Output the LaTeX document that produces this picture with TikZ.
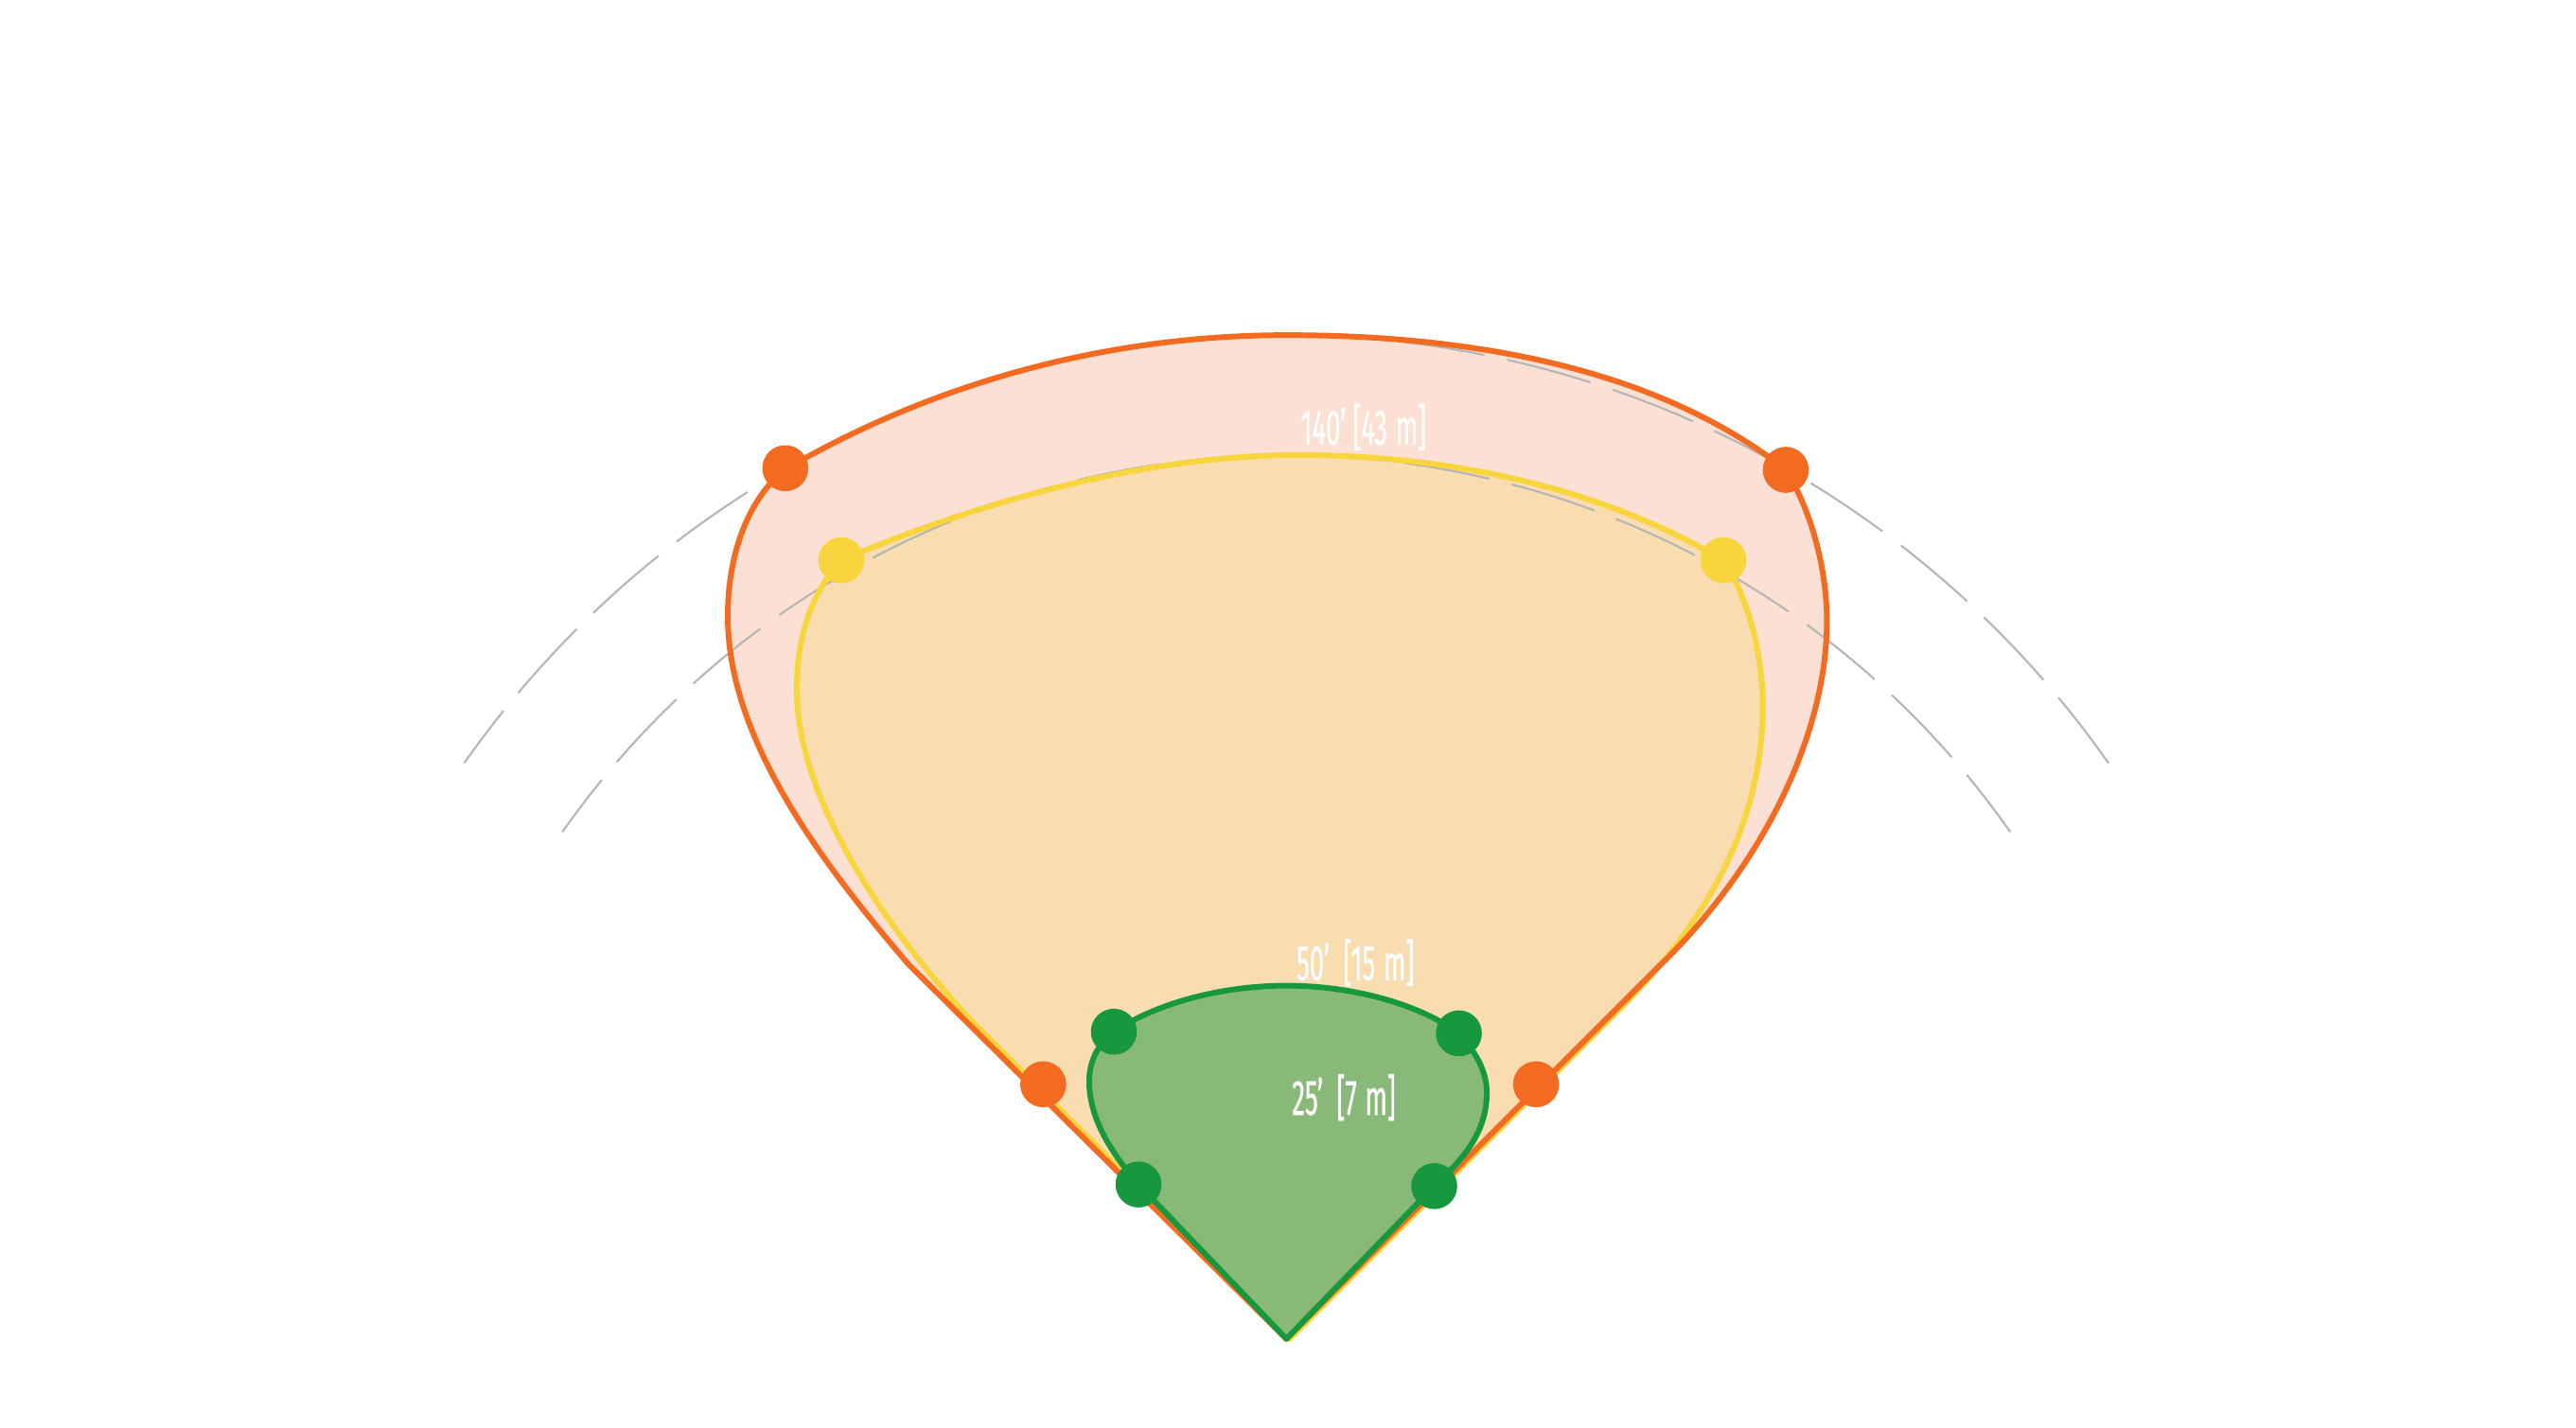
\documentclass[tikz,border=0pt]{standalone}
\usepackage{fontspec}
\usepackage{xcolor}
\usepackage{tikz}
\usetikzlibrary{arrows.meta, positioning}
\newfontfamily\narrowfont[FakeStretch=0.52, FakeBold=0.6]{Fira Sans}
\definecolor{rimorange}{HTML}{F26B21}
\definecolor{fillorange}{HTML}{FBE0D3}
\definecolor{rimyellow}{HTML}{F8D43D}
\definecolor{fillyellow}{HTML}{F9DCB0}
\definecolor{rimgreen}{HTML}{18983E}
\definecolor{fillgreen}{HTML}{89B978}
\definecolor{guidegrey}{HTML}{B5B5B5}

\newcommand{\outerzone}{(783,815) -- (553,587)
  .. controls (500,525) and (443,450) .. (443,375)
  .. controls (443,330) and (460,300) .. (477.5,286)
  .. controls (570,232) and (676,204) .. (783,204)
  .. controls (890,204) and (1006,222) .. (1087,286)
  .. controls (1102,310) and (1112,345) .. (1112,378)
  .. controls (1112,450) and (1070,530) .. (1010,588) -- cycle}
\newcommand{\innerzone}{(785,815) -- (590,620)
  .. controls (530,555) and (485,480) .. (485,420)
  .. controls (485,385) and (495,360) .. (512,341)
  .. controls (585,310) and (690,277) .. (790,277)
  .. controls (890,277) and (980,300) .. (1049,341)
  .. controls (1065,365) and (1073,400) .. (1073,430)
  .. controls (1073,500) and (1040,560) .. (987,613) -- cycle}
\newcommand{\infieldzone}{(783,815) -- (693,721)
  .. controls (675,700) and (663,680) .. (663,658)
  .. controls (663,645) and (669,635) .. (678,628)
  .. controls (705,610) and (745,600) .. (783,600)
  .. controls (825,600) and (865,612) .. (888,629)
  .. controls (898,640) and (905,652) .. (905,665)
  .. controls (905,690) and (890,706) .. (873,722) -- cycle}

\begin{document}
\begin{tikzpicture}[x=0.01736cm, y=-0.01736cm,
    rim/.style={line width=1.7pt, line join=round},
    guide/.style={draw=guidegrey, line width=0.6pt, dash pattern=on 26pt off 7pt, dash phase=6.3pt},
    dist/.style={font=\narrowfont\fontsize{15}{18}\selectfont, text=white, inner sep=0pt}]
    \useasboundingbox (0,0) rectangle (1568,869);

    % 区域填充
    \fill[fillorange] \outerzone;
    \fill[fillyellow] \innerzone;

    % 虚线弧
    \draw[guide] plot[domain=-145:-35, samples=80] ({783+611*cos(\x)}, {815+611*sin(\x)});
    \draw[guide] plot[domain=-145:-35, samples=80] ({783+538*cos(\x)}, {815+538*sin(\x)});

    % 边线
    \draw[rim, rimyellow] \innerzone;
    \draw[rim, rimorange] \outerzone;

    % 内场
    \draw[rim, rimgreen, fill=fillgreen] \infieldzone;

    % 圆点
    \foreach \p in {(478,285), (1087,286), (635,660), (935,660)}
        \fill[rimorange] \p circle (14);
    \foreach \p in {(512,341), (1049,341)}
        \fill[rimyellow] \p circle (14);
    \foreach \p in {(678,628), (888,629), (693,721), (873,722)}
        \fill[rimgreen] \p circle (14);

    % 标注
    \node[dist] (far) at (830,260) {140’ [43\,m]};
    \node[dist] (mid) at (825,586) {50’\ \ [15\,m]};
    \node[dist] (near) at (818,668) {25’\ \ [7\,m]};
\end{tikzpicture}
\end{document}
